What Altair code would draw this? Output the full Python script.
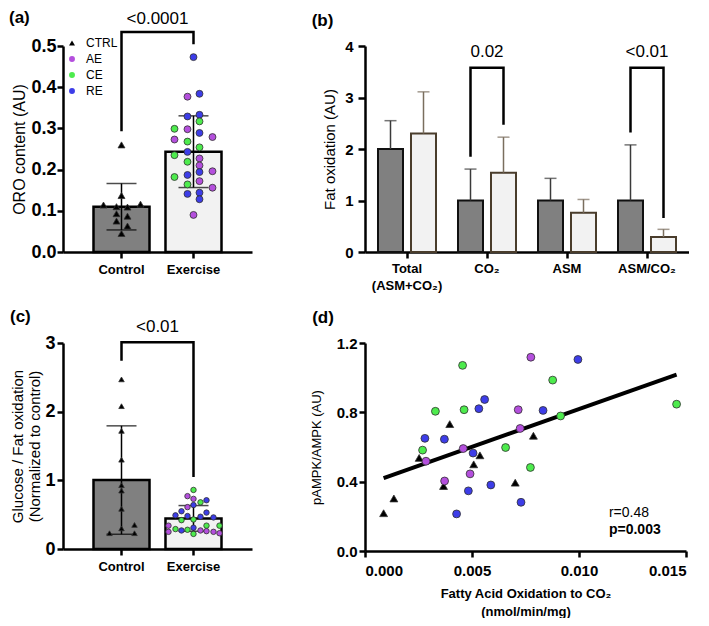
import altair as alt
import pandas as pd

FONT = "Liberation Sans"

GROUPS = ["CTRL", "AE", "CE", "RE"]
GROUP_COLORS = ["#000000", "#B44FDD", "#4DEB4D", "#3D3DE8"]
GROUP_SHAPES = ["triangle-up", "circle", "circle", "circle"]
CONDS = ["Control", "Exercise"]
BAR_FILLS = ["#808080", "#f2f2f2"]

# ---------------- panel (a): ORO content ----------------
a_ctrl_val = [0.260, 0.137, 0.114, 0.116, 0.110, 0.109, 0.093, 0.087, 0.075, 0.063, 0.045]
a_ctrl_off = [0, 0, -18, 19, -5, 6, -5, 6, -5, 6, 0]
a_ex_val = [0.473, 0.377, 0.384, 0.329, 0.333, 0.317, 0.299, 0.298, 0.289, 0.273,
            0.279, 0.268, 0.254, 0.243, 0.235, 0.227, 0.219, 0.210, 0.194, 0.196,
            0.187, 0.182, 0.172, 0.164, 0.156, 0.141, 0.144, 0.128, 0.090]
a_ex_grp = ["RE", "AE", "RE", "RE", "RE", "CE", "CE", "AE", "RE", "AE",
            "AE", "CE", "CE", "RE", "CE", "AE", "CE", "AE", "RE", "AE",
            "RE", "CE", "AE", "CE", "AE", "RE", "RE", "RE", "AE"]
a_ex_off = [0, -6, 6, -6, 6, 6, -19, -6, 6, -19,
            19, -6, 6, -6, -19, 6, -6, 6, 6, 19,
            -6, -19, 6, -6, 19, -6, 6, 6, 0]
a_p_text = "<0.0001"
BRACKET_X = ["Control", "Control", "Exercise", "Exercise"]
a_bracket_y = [0.293, 0.534, 0.534, 0.504]
a_text_y = 0.566

# ---------------- panel (b): fat oxidation ----------------
B_CATS = ["Total|(ASM+CO₂)", "CO₂", "ASM", "ASM/CO₂"]
b_ctrl_mean = [2.0, 1.0, 1.0, 1.0]
b_ctrl_sd = [0.55, 0.61, 0.43, 1.08]
b_ex_mean = [2.30, 1.54, 0.76, 0.29]
b_ex_sd = [0.81, 0.69, 0.26, 0.15]
b_br_cat = ["CO₂"] * 4 + ["ASM/CO₂"] * 4
b_br_cond = ["Control", "Control", "Exercise", "Exercise"] * 2
b_br_y = [1.85, 3.58, 3.58, 2.47, 2.32, 3.58, 3.58, 0.66]
b_txt_cat = ["CO₂", "ASM/CO₂"]
b_txt = ["0.02", "<0.01"]
b_txt_y = [3.89, 3.89]

# ---------------- panel (c): glucose / fat oxidation ----------------
c_ctrl_val = [2.47, 2.08, 1.72, 1.30, 0.93, 0.85, 0.585, 0.30, 0.35, 0.23, 0.23]
c_ctrl_off = [0, 0, 0, 0, 0, 0, 0, 0, 13, 13, -12]
c_ex_val = [0.86, 0.77, 0.73, 0.68, 0.71, 0.64, 0.61, 0.55, 0.53, 0.49,
            0.48, 0.47, 0.46, 0.42, 0.43, 0.34, 0.34, 0.34, 0.31, 0.29,
            0.28, 0.27, 0.27, 0.26, 0.25, 0.25, 0.23, 0.22]
c_ex_grp = ["CE", "AE", "AE", "CE", "RE", "RE", "AE", "RE", "RE", "RE",
            "RE", "RE", "RE", "CE", "CE", "AE", "CE", "CE", "RE", "CE",
            "CE", "RE", "AE", "AE", "AE", "AE", "AE", "CE"]
c_ex_off = [0, -6, 0, 7, 13, 0, -6, -12, 13, -18,
            -6, 7, 20, -12, 0, -25, 13, 26, 0, -18,
            -6, -12, 7, 13, 20, -25, 26, 0]
c_p_text = "<0.01"
c_bracket_y = [2.74, 3.01, 3.01, 1.05]
c_text_y = 3.24

# ---------------- panel (d): scatter ----------------
d_x = [0.00087, 0.00135, 0.00253, 0.00396, 0.00367, 0.00537, 0.00508, 0.00702, 0.00787,
       0.00269, 0.00329, 0.00456, 0.00463, 0.00657, 0.00773, 0.00877, 0.00914, 0.01456,
       0.00285, 0.00459, 0.00372, 0.00491, 0.00716, 0.00725, 0.00775,
       0.00280, 0.00371, 0.00505, 0.00532, 0.00559, 0.00483, 0.00588, 0.00428, 0.00729,
       0.00832, 0.00995]
d_y = [0.218, 0.303, 0.537, 0.732, 0.375, 0.552, 0.500, 0.394, 0.665,
       0.582, 0.806, 1.071, 0.815, 0.597, 0.482, 0.986, 0.779, 0.847,
       0.518, 0.591, 0.404, 0.445, 0.815, 0.707, 1.118,
       0.650, 0.645, 0.565, 0.821, 0.874, 0.347, 0.381, 0.214, 0.281,
       0.811, 1.105]
d_grp = ["CTRL"] * 9 + ["CE"] * 9 + ["AE"] * 7 + ["RE"] * 11
d_stats = ["r=0.48", "p=0.003"]
d_stats_x = [0.0114, 0.0114]
d_stats_y = [0.218, 0.119]


def title(text, dx, offset):
    return alt.TitleParams(text, anchor="start", frame="bounds", fontSize=17,
                           fontWeight="bold", font=FONT, dx=dx, offset=offset, color="black")


def color_enc(legend):
    return alt.Color("grp:N", scale=alt.Scale(domain=GROUPS, range=GROUP_COLORS),
                     legend=legend, title=None)


def shape_enc(legend):
    return alt.Shape("grp:N", scale=alt.Scale(domain=GROUPS, range=GROUP_SHAPES),
                     legend=legend, title=None)


def bar_panel(ctrl_val, ctrl_off, ex_val, ex_grp, ex_off, ydom, yvals, yfmt, ytitle,
              ylabsize, ytitlesize, br_y, p_text, text_y, ptitle, psize, legend,
              lab_pad, title_pad, tdx, toffset):
    pts = pd.DataFrame({
        "cond": ["Control"] * len(ctrl_val) + ["Exercise"] * len(ex_val),
        "val": ctrl_val + ex_val,
        "grp": ["CTRL"] * len(ctrl_val) + ex_grp,
        "off": ctrl_off + ex_off,
    })
    xenc = alt.X("cond:N", sort=CONDS,
                 scale=alt.Scale(domain=CONDS, paddingInner=0.222, paddingOuter=0.4236),
                 axis=alt.Axis(title=None, labelAngle=0, labelFontSize=13,
                               labelFontWeight="bold", labelPadding=5))
    yscale = alt.Scale(domain=ydom, nice=False, zero=True)
    yaxis = alt.Axis(values=yvals, format=yfmt, labelFontSize=ylabsize,
                     labelFontWeight="bold", titleFontSize=ytitlesize,
                     titleFontWeight="normal", labelPadding=lab_pad,
                     titlePadding=title_pad, titleLineHeight=17)

    def Y(field):
        return alt.Y(field, scale=yscale, axis=yaxis, title=ytitle)

    bars = alt.Chart(pts).mark_bar(stroke="black", strokeWidth=2.5).encode(
        x=xenc, y=Y("mean(val):Q"),
        fill=alt.Fill("cond:N", scale=alt.Scale(domain=CONDS, range=BAR_FILLS), legend=None))
    errs = alt.Chart(pts).transform_aggregate(
        m="mean(val)", s="stdev(val)", groupby=["cond"]
    ).transform_calculate(lo="datum.m - datum.s", hi="datum.m + datum.s")
    err_rule = errs.mark_rule(color="black", strokeWidth=1.5).encode(
        x=xenc, y=Y("lo:Q"), y2="hi:Q")
    cap_hi = errs.mark_tick(color="black", thickness=1.5, size=30).encode(x=xenc, y=Y("hi:Q"))
    cap_lo = errs.mark_tick(color="black", thickness=1.5, size=30).encode(x=xenc, y=Y("lo:Q"))
    points = alt.Chart(pts).mark_point(filled=True, opacity=1, size=psize,
                                       stroke="#303030", strokeWidth=0.8).encode(
        x=xenc,
        xOffset=alt.XOffset("off:Q", scale=alt.Scale(domain=[-28, 28], range=[0, 56])),
        y=Y("val:Q"),
        color=color_enc(legend), shape=shape_enc(legend))
    br = pd.DataFrame({"cond": BRACKET_X, "y": br_y, "o": [0, 1, 2, 3]})
    bracket = alt.Chart(br).mark_line(color="black", strokeWidth=2.5, strokeJoin="miter").encode(
        x=xenc, y=Y("y:Q"), order="o:Q")
    txt = alt.Chart(pd.DataFrame({"cond": ["Control"], "y": [text_y], "t": [p_text]})).mark_text(
        fontSize=17, font=FONT, dx=36, color="black").encode(x=xenc, y=Y("y:Q"), text="t:N")
    return alt.layer(bars, err_rule, cap_hi, cap_lo, points, bracket, txt).resolve_scale(
        xOffset="independent").properties(
        width=189, height=206, title=title(ptitle, tdx, toffset))


legend_a = alt.Legend(orient="none", legendX=3, legendY=-9, symbolSize=35,
                      labelFontSize=12, labelFont=FONT, rowPadding=4, padding=0,
                      symbolStrokeWidth=0, labelOffset=8, labelColor="black")

panel_a = bar_panel(a_ctrl_val, a_ctrl_off, a_ex_val, a_ex_grp, a_ex_off,
                    [0, 0.5], [0, 0.1, 0.2, 0.3, 0.4, 0.5], ".1f", "ORO content  (AU)",
                    18, 16, a_bracket_y, a_p_text, a_text_y, "(a)", 48, legend_a, 1, 3, -3, -17)

panel_c = bar_panel(c_ctrl_val, c_ctrl_off, c_ex_val, c_ex_grp, c_ex_off,
                    [0, 3], [0, 1, 2, 3], "d",
                    ["Glucose / Fat oxidation", "(Normalized to control)"],
                    18, 15, c_bracket_y, c_p_text, c_text_y, "(c)", 30, None, 2, 2, -1, -8)

# ---------------- build (b) ----------------
b_df = pd.DataFrame({
    "cat": B_CATS * 2,
    "cond": ["Control"] * 4 + ["Exercise"] * 4,
    "mean": b_ctrl_mean + b_ex_mean,
    "sd": b_ctrl_sd + b_ex_sd,
})
xb = alt.X("cat:N", sort=B_CATS,
           scale=alt.Scale(domain=B_CATS, paddingInner=0.275, paddingOuter=0.1625),
           axis=alt.Axis(title=None, labelAngle=0, labelExpr="split(datum.label, '|')",
                         labelFontSize=13, labelFontWeight="bold", labelLineHeight=17,
                         labelPadding=4))
xob = alt.XOffset("cond:N", sort=CONDS,
                  scale=alt.Scale(domain=CONDS, paddingInner=0.2424, paddingOuter=0))
yb_scale = alt.Scale(domain=[0, 4], nice=False)
yb_axis = alt.Axis(values=[0, 1, 2, 3, 4], format="d", labelFontSize=15,
                   labelFontWeight="bold", titleFontSize=15, titleFontWeight="normal",
                   labelPadding=5, titlePadding=7, tickSize=7)


def YB(field):
    return alt.Y(field, scale=yb_scale, axis=yb_axis, title="Fat oxidation (AU)")


b_base = alt.Chart(b_df).transform_calculate(hi="datum.mean + datum.sd")
b_bars = b_base.mark_bar(strokeWidth=2).encode(
    x=xb, xOffset=xob, y=YB("mean:Q"),
    fill=alt.Fill("cond:N", scale=alt.Scale(domain=CONDS, range=BAR_FILLS), legend=None),
    stroke=alt.Stroke("cond:N", scale=alt.Scale(domain=CONDS, range=["#111111", "#4a3d2c"]),
                      legend=None))
err_col = alt.Color("cond:N", scale=alt.Scale(domain=CONDS, range=["#3a3a3a", "#7a6e5e"]),
                    legend=None)
b_err = b_base.mark_rule(strokeWidth=1.5).encode(
    x=xb, xOffset=xob, y=YB("mean:Q"), y2="hi:Q", color=err_col)
b_cap = b_base.mark_tick(thickness=1.5, size=12).encode(
    x=xb, xOffset=xob, y=YB("hi:Q"), color=err_col)
b_br_df = pd.DataFrame({"cat": b_br_cat, "cond": b_br_cond, "y": b_br_y,
                        "o": [0, 1, 2, 3] * 2, "bid": [0] * 4 + [1] * 4})
b_bracket = alt.Chart(b_br_df).mark_line(color="black", strokeWidth=2.5,
                                         strokeJoin="miter").encode(
    x=xb, xOffset=xob, y=YB("y:Q"), order="o:Q", detail="bid:N")
b_text = alt.Chart(pd.DataFrame({"cat": b_txt_cat, "t": b_txt, "y": b_txt_y})).mark_text(
    fontSize=17, font=FONT, color="black").encode(x=xb, y=YB("y:Q"), text="t:N")
panel_b = alt.layer(b_bars, b_err, b_cap, b_bracket, b_text).properties(
    width=324, height=206, title=title("(b)", -11, 9))

# ---------------- build (d) ----------------
d_df = pd.DataFrame({"x": d_x, "y": d_y, "grp": d_grp})
xd = alt.X("x:Q", scale=alt.Scale(domain=[0, 0.015], nice=False),
           axis=alt.Axis(values=[0, 0.005, 0.01, 0.015], format=".3f", labelFontSize=15,
                         labelFontWeight="bold", labelPadding=6, titleFontSize=13,
                         titleFontWeight="bold", titlePadding=9, titleLineHeight=18),
           title=["Fatty Acid Oxidation to CO₂", "(nmol/min/mg)"])
yd = alt.Y("y:Q", scale=alt.Scale(domain=[0, 1.2], nice=False),
           axis=alt.Axis(values=[0, 0.4, 0.8, 1.2], format=".1f", labelFontSize=15,
                         labelFontWeight="bold", labelPadding=2, titleFontSize=13,
                         titleFontWeight="normal", titlePadding=13),
           title="pAMPK/AMPK (AU)")
d_line = alt.Chart(d_df).transform_regression("x", "y").mark_line(
    color="black", strokeWidth=4).encode(x=xd, y=yd)
d_pts = alt.Chart(d_df).mark_point(filled=True, opacity=1, size=62, stroke="#303030",
                                   strokeWidth=0.8).encode(
    x=xd, y=yd, color=color_enc(None), shape=shape_enc(None))
d_st = pd.DataFrame({"x": d_stats_x, "y": d_stats_y, "t": d_stats})
d_r = alt.Chart(d_st.iloc[[0]]).mark_text(align="left", fontSize=14, font=FONT,
                                          color="black").encode(x=xd, y=yd, text="t:N")
d_p = alt.Chart(d_st.iloc[[1]]).mark_text(align="left", fontSize=14, font=FONT,
                                          fontWeight="bold", color="black").encode(
    x=xd, y=yd, text="t:N")
panel_d = alt.layer(d_line, d_pts, d_r, d_p).properties(
    width=321, height=208, title=title("(d)", 2, 9))

chart = alt.concat(panel_a, panel_b, panel_c, panel_d, columns=2,
                   spacing={"row": 91, "column": 113}, bounds="flush").resolve_scale(
    color="independent", shape="independent").properties(
    padding={"left": 0, "top": 0, "right": 0, "bottom": 0}
).configure(font=FONT).configure_view(stroke=None).configure_axis(
    grid=False, domainColor="black", tickColor="black", labelColor="black",
    titleColor="black", labelFont=FONT, titleFont=FONT, domainWidth=2.5,
    tickWidth=2.5, tickSize=6)

chart.save("out.html", embed_options={"renderer": "svg", "actions": False})
